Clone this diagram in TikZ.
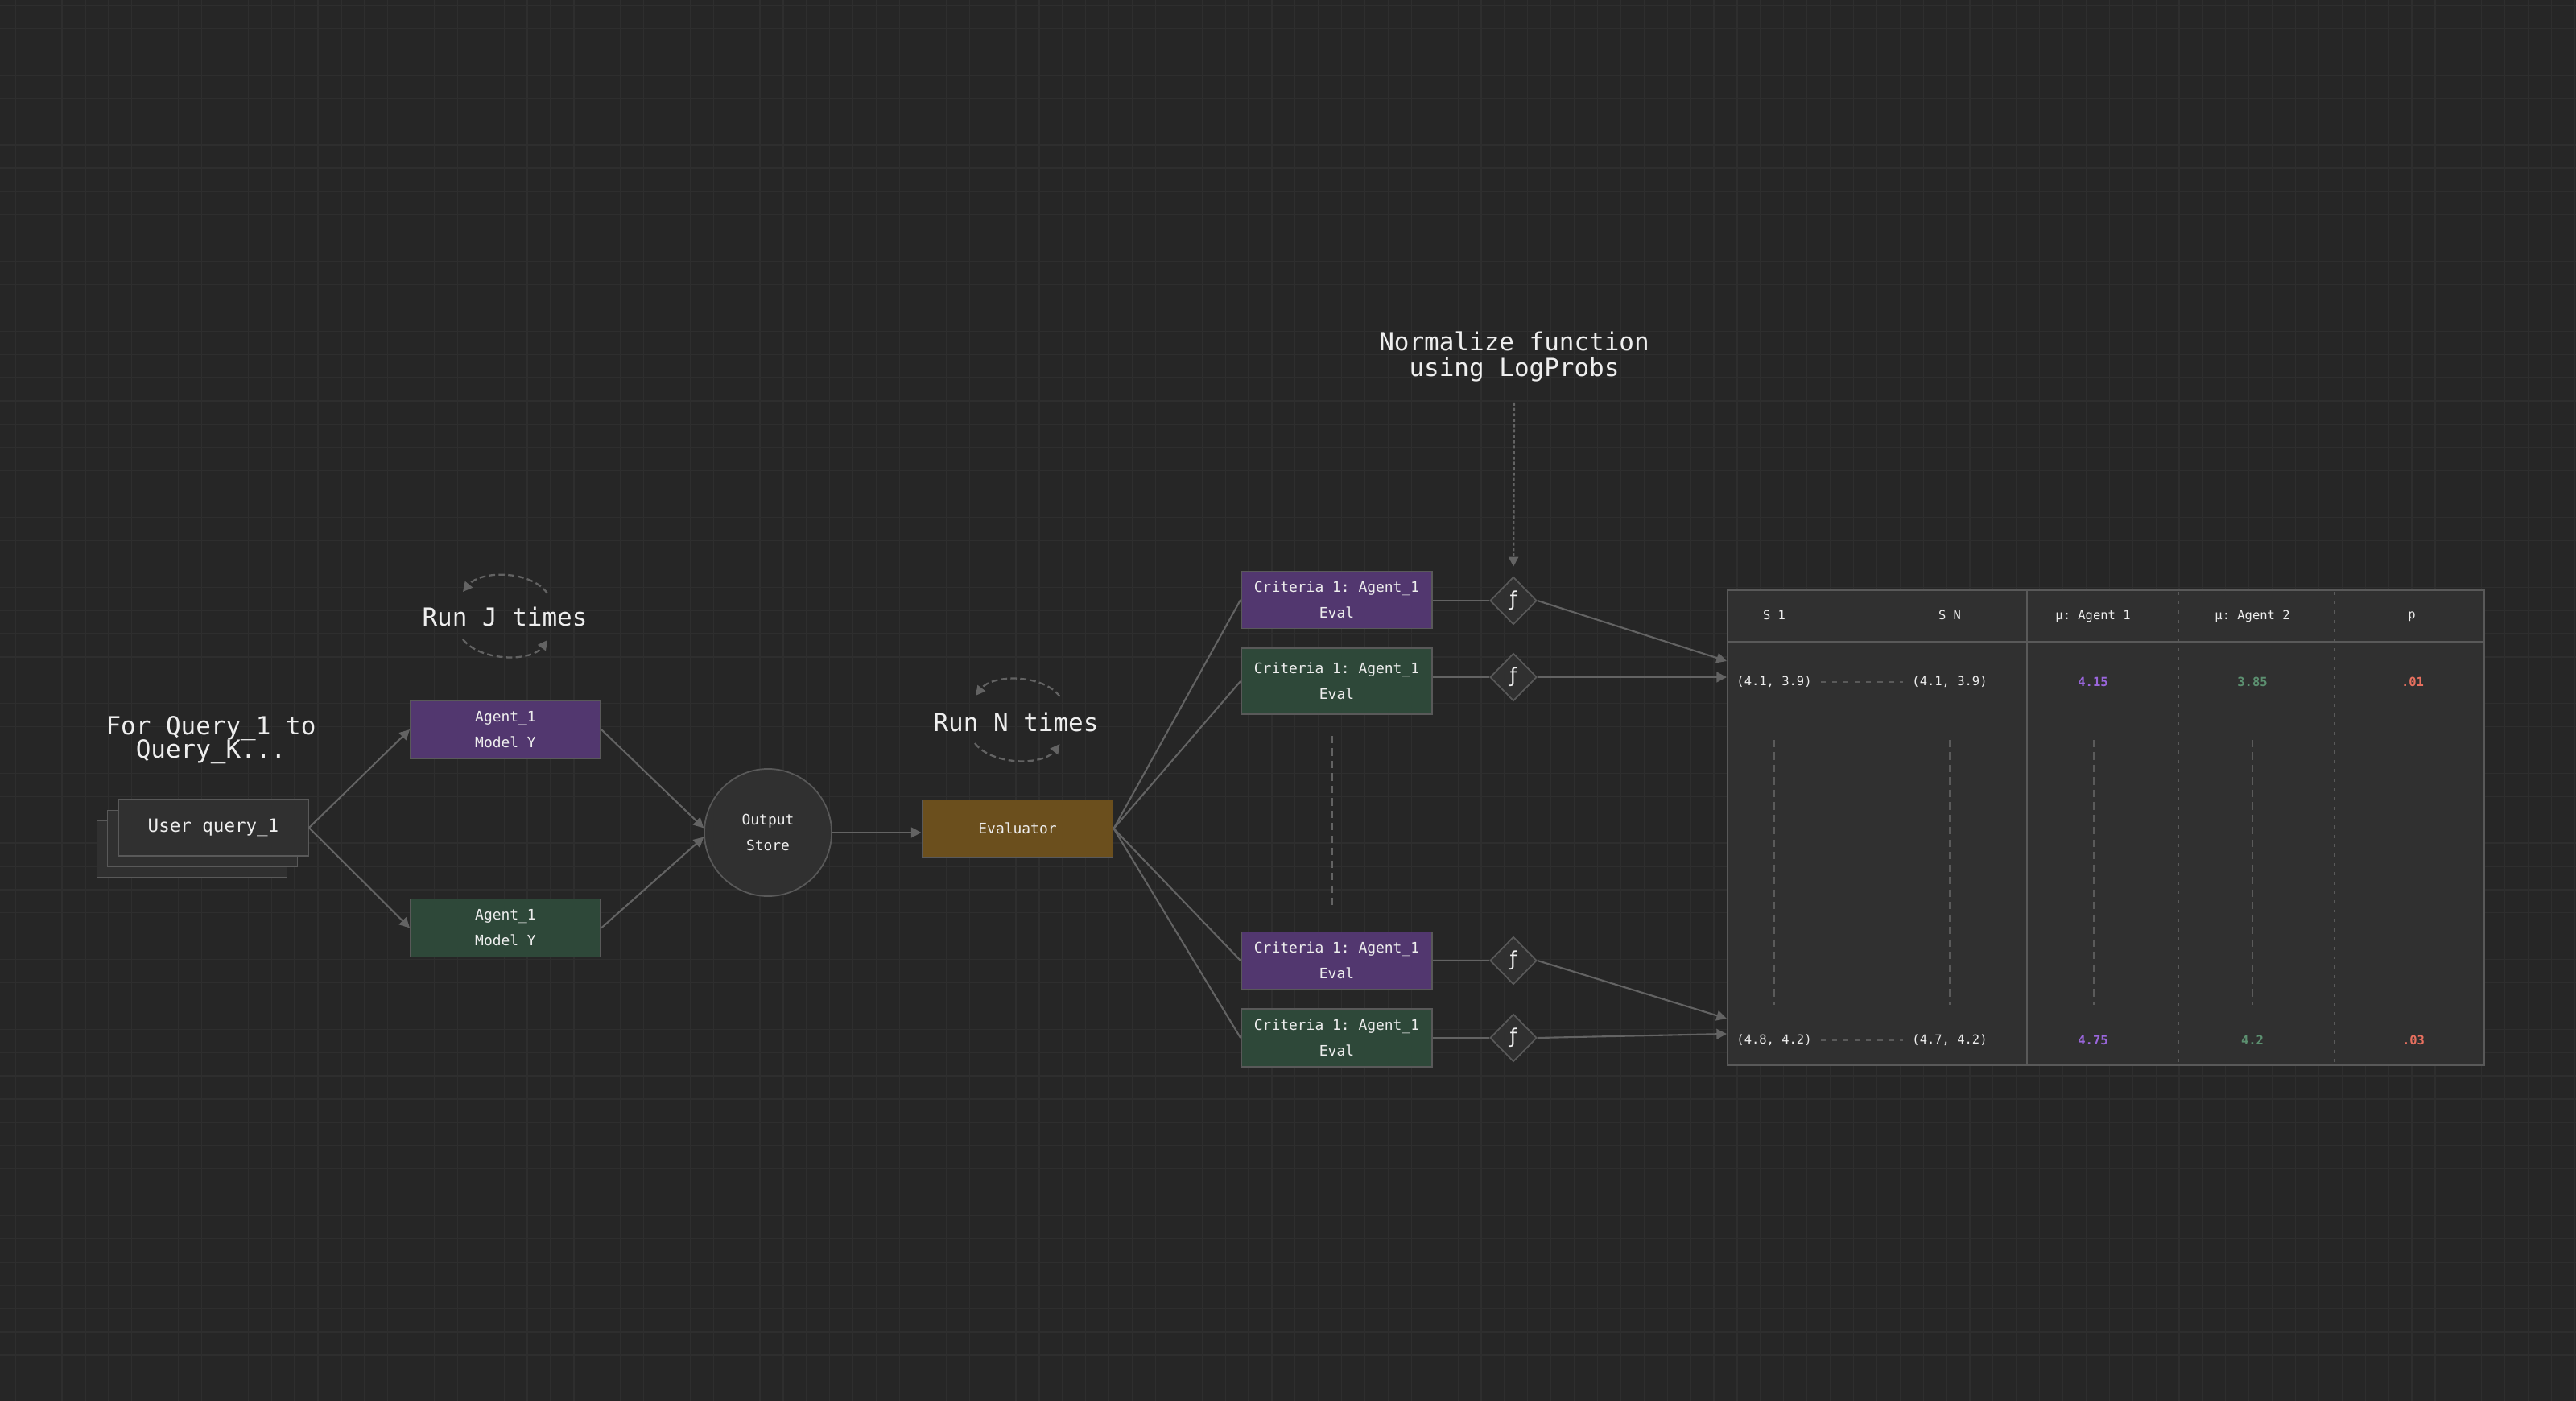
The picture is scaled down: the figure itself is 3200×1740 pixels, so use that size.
\documentclass[tikz,border=0pt]{standalone}
\usepackage{fontspec}
\setmonofont{DejaVu Sans Mono}
\newfontfamily\symfont{DejaVu Sans}
\usetikzlibrary{shapes.geometric,arrows.meta}
\newcommand\tightlines{\lineskiplimit=-10pt\relax}
\definecolor{bg}{HTML}{262626}
\definecolor{gridc}{HTML}{2E2E2E}
\definecolor{boxc}{HTML}{303030}
\definecolor{bordc}{HTML}{595959}
\definecolor{linec}{HTML}{636363}
\definecolor{txt}{HTML}{EEEEEE}
\definecolor{purp}{HTML}{52376F}
\definecolor{grn}{HTML}{2E4839}
\definecolor{evc}{HTML}{6B4F1D}
\definecolor{numP}{HTML}{9A66DC}
\definecolor{numG}{HTML}{5C9070}
\definecolor{numR}{HTML}{E8705F}
\definecolor{dashc}{HTML}{5A5A5A}
\begin{document}
\begin{tikzpicture}[x=0.01cm,y=-0.01cm,
  gridline/.style={draw=gridc, line width=0.35pt},
  box/.style={draw=bordc, line width=0.5pt, inner sep=0pt, align=center, text=txt,
    font=\ttfamily\fontsize{5.1}{9.1}\selectfont},
  agentbox/.style={box, minimum width=2.36cm, minimum height=0.72cm},
  critbox/.style={box, minimum width=2.37cm},
  fnode/.style={diamond, aspect=1, draw=bordc, line width=0.5pt, fill=boxc, inner sep=0pt,
    minimum width=0.58cm, minimum height=0.59cm, text=txt, font=\symfont\fontsize{7}{7}\selectfont},
  bigtxt/.style={text=txt, align=center, inner sep=0pt,
    font=\ttfamily\fontsize{8.8}{8.2}\selectfont\tightlines},
  tbltxt/.style={text=txt, inner sep=0pt, font=\ttfamily\fontsize{4.4}{5}\selectfont},
  tblnum/.style={inner sep=0pt, font=\ttfamily\bfseries\fontsize{4.4}{5}\selectfont},
  conn/.style={draw=linec, line width=0.6pt},
  arr/.style={conn, -{Triangle[length=3.6pt,width=3.6pt]}},
  looparr/.style={draw=linec, line width=0.65pt, dash pattern=on 2.2pt off 1.2pt,
    -{Triangle[length=3.4pt,width=3.4pt]}},
  dotarr/.style={draw=linec, line width=0.65pt, dash pattern=on 1.1pt off 0.8pt,
    -{Triangle[length=3.4pt,width=3.4pt]}, shorten >=3.4pt},
  vdash/.style={draw=dashc, line width=0.55pt, dash pattern=on 2.6pt off 1.8pt},
  hdash/.style={draw=dashc, line width=0.55pt, dash pattern=on 1.8pt off 2.2pt},
  coldiv/.style={draw=dashc, line width=0.55pt, dash pattern=on 1.1pt off 2.2pt}
]
\useasboundingbox (0,0) rectangle (3200,1740);
\fill[bg] (0,0) rectangle (3200,1740);
\foreach \i in {0,...,110} \draw[gridline] ({19.3+\i*28.9},0) -- ({19.3+\i*28.9},1740);
\foreach \j in {0,...,60} \draw[gridline] (0,{6.7+\j*28.9}) -- (3200,{6.7+\j*28.9});

% left texts
\node[bigtxt] (forq) at (262,919) {For Query\_1 to\\Query\_K...};
\node[bigtxt] (runj) at (627,766) {Run J times};
\node[bigtxt] (runn) at (1262,897) {Run N times};
\node[bigtxt, font=\ttfamily\fontsize{8.8}{9.2}\selectfont\tightlines] (norm) at (1881,443) {Normalize function\\using LogProbs};

% loops
\draw[looparr] (680,737) .. controls (660,708) and (597,708) .. (575,735);
\draw[looparr] (575,794) .. controls (597,822) and (660,822) .. (680,795);
\draw[looparr] (1316.5,865) .. controls (1296,837) and (1233,837) .. (1212,864);
\draw[looparr] (1211,923) .. controls (1232,951) and (1296,951) .. (1316.5,924);

% user query stack
\node[box, fill=boxc, minimum width=2.36cm, minimum height=0.70cm] (uq3) at (238.5,1054.5) {};
\node[box, fill=boxc, minimum width=2.36cm, minimum height=0.70cm] (uq2) at (251.5,1041.5) {};
\node[box, fill=boxc, minimum width=2.36cm, minimum height=0.70cm,
  font=\ttfamily\fontsize{6.4}{8}\selectfont] (uq) at (265,1028) {User query\_1};

% agents
\node[agentbox, fill=purp] (ap) at (628,906) {Agent\_1\\Model Y};
\node[agentbox, fill=grn] (ag) at (628,1152.5) {Agent\_1\\Model Y};

% output store
\node[circle, draw=bordc, line width=0.5pt, fill=boxc, minimum size=1.58cm, inner sep=0pt,
  align=center, text=txt, font=\ttfamily\fontsize{5.1}{9.1}\selectfont] (os) at (954,1034) {Output\\Store};

% evaluator
\node[box, fill=evc, minimum width=2.37cm, minimum height=0.71cm] (ev) at (1264,1029) {Evaluator};

% criteria
\node[critbox, fill=purp, minimum height=0.71cm] (c1) at (1660.5,745) {Criteria 1: Agent\_1\\Eval};
\node[critbox, fill=grn, minimum height=0.82cm] (c2) at (1660.5,846) {Criteria 1: Agent\_1\\Eval};
\node[critbox, fill=purp, minimum height=0.71cm] (c3) at (1660.5,1193) {Criteria 1: Agent\_1\\Eval};
\node[critbox, fill=grn, minimum height=0.72cm] (c4) at (1660.5,1289) {Criteria 1: Agent\_1\\Eval};

% f diamonds
\node[fnode] (f1) at (1880,746) {ƒ};
\node[fnode] (f2) at (1880,841) {ƒ};
\node[fnode] (f3) at (1880,1193) {ƒ};
\node[fnode] (f4) at (1880,1289) {ƒ};

% table
\node[draw=bordc, line width=0.5pt, fill=boxc, minimum width=9.40cm, minimum height=5.90cm, inner sep=0pt] (tbl) at (2616,1028) {};
\draw[draw=bordc, line width=0.5pt] (2146,797) -- (3086,797);
\draw[draw=bordc, line width=0.5pt] (2518,733) -- (2518,1323);
\draw[coldiv] (2706,735) -- (2706,1322);
\draw[coldiv] (2900,735) -- (2900,1322);

\node[tbltxt] (h1) at (2204,766) {S\_1};
\node[tbltxt] (h2) at (2422,766) {S\_N};
\node[tbltxt] (h3) at (2600,766) {μ: Agent\_1};
\node[tbltxt] (h4) at (2798,766) {μ: Agent\_2};
\node[tbltxt] (h5) at (2996,766) {p};

\node[tbltxt] (r11) at (2204,847) {(4.1, 3.9)};
\node[tbltxt] (r12) at (2422,847) {(4.1, 3.9)};
\node[tblnum, text=numP] (r13) at (2600,847) {4.15};
\node[tblnum, text=numG] (r14) at (2798,847) {3.85};
\node[tblnum, text=numR] (r15) at (2997,847) {.01};

\node[tbltxt] (r21) at (2204,1292) {(4.8, 4.2)};
\node[tbltxt] (r22) at (2422,1292) {(4.7, 4.2)};
\node[tblnum, text=numP] (r23) at (2600,1292) {4.75};
\node[tblnum, text=numG] (r24) at (2798,1292) {4.2};
\node[tblnum, text=numR] (r25) at (2998,1292) {.03};

\draw[hdash] (r11.east) ++(3pt,0) -- ([xshift=-3pt]r12.west);
\draw[hdash] (r21.east) ++(3pt,0) -- ([xshift=-3pt]r22.west);
\foreach \x in {2204,2422,2601,2798} \draw[vdash] (\x,919) -- (\x,1248);

% connectors
\draw[arr] (uq.east) -- (ap.west);
\draw[arr] (uq.east) -- (ag.west);
\draw[arr] (ap.east) -- (os.176);
\draw[arr] (ag.east) -- (os.184);
\draw[arr] (os.east) -- (os.east -| ev.west);
\draw[conn] (ev.east) -- (c1.west);
\draw[conn] (ev.east) -- (c2.west);
\draw[conn] (ev.east) -- (c3.west);
\draw[conn] (ev.east) -- (c4.west);
\draw[conn] (c1.east |- f1.west) -- (f1.west);
\draw[conn] (c2.east |- f2.west) -- (f2.west);
\draw[conn] (c3.east |- f3.west) -- (f3.west);
\draw[conn] (c4.east |- f4.west) -- (f4.west);

\coordinate (t1) at (2145,821);
\coordinate (t2) at (2145,841);
\coordinate (t3) at (2145,1265);
\coordinate (t4) at (2145,1284);
\draw[arr] (f1.east) -- (t1);
\draw[arr] (f2.east) -- (t2);
\draw[arr] (f3.east) -- (t3);
\draw[arr] (f4.east) -- (t4);

\coordinate (nstart) at (1881,500);
\draw[dotarr] (nstart) -- (f1.north);
\draw[vdash, draw=linec] (1655,914) -- (1655,1125);
\end{tikzpicture}
\end{document}
